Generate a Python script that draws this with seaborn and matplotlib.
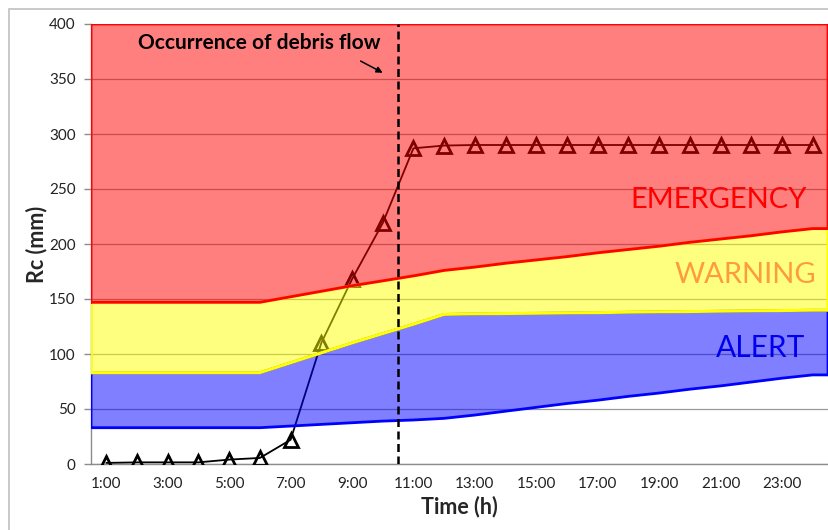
import numpy as np
import pandas as pd
import matplotlib
matplotlib.use("Agg")
import matplotlib.pyplot as plt
import matplotlib.patches as mpatches
import seaborn as sns

# ---------------- data ----------------
hours = ["1:00", "2:00", "3:00", "4:00", "5:00", "6:00", "7:00", "8:00",
         "9:00", "10:00", "11:00", "12:00", "13:00", "14:00", "15:00", "16:00",
         "17:00", "18:00", "19:00", "20:00", "21:00", "22:00", "23:00", "24:00"]
rc = [1, 1.5, 1.5, 1.5, 4, 5.5, 22, 110, 168, 219, 287, 289.5,
      290, 290, 290, 290, 290, 290, 290, 290, 290, 290, 290, 290]
alert_low = [33, 33, 33, 33, 33, 33, 34.5, 36, 37.5, 39, 40, 41.5,
             44.5, 48, 51.5, 55, 58, 61.5, 64.5, 68, 71, 74.5, 78, 81]
warning_low = [83, 83, 83, 83, 83, 83, 92, 101, 110, 118.5, 127, 136,
               136.5, 136.8, 137, 137.3, 137.6, 138, 138.3, 138.6, 138.9, 139.2, 139.5, 139.8]
emergency_low = [147, 147, 147, 147, 147, 147, 152, 157, 162, 166.5, 171, 176,
                 179, 182.5, 185.5, 188.5, 192, 195, 198, 201.5, 204.5, 207.5, 211, 214]
emergency_high = [400] * 24
y_ticks = [0, 50, 100, 150, 200, 250, 300, 350, 400]
x_label_hours = ["1:00", "3:00", "5:00", "7:00", "9:00", "11:00",
                 "13:00", "15:00", "17:00", "19:00", "21:00", "23:00"]

# ---------------- style ----------------
sns.set_style("white")
plt.rcParams['font.family'] = ['Lato', 'DejaVu Sans']

fig = plt.figure(figsize=(8.29, 5.30), dpi=100)
ax = fig.add_axes([91 / 829, 66 / 530, 737 / 829, 440 / 530])

idx = list(range(len(hours)))
df = pd.DataFrame({"t": idx, "rc": rc})

# gridlines below everything
ax.set_axisbelow(True)
ax.yaxis.grid(True, color="#9a9a9a", lw=0.9, zorder=0)

# Rc line (under the semi-transparent bands, as in the original)
sns.lineplot(data=df, x="t", y="rc", ax=ax, color="black", lw=1.3,
             marker="^", markersize=10.5, markerfacecolor="none",
             markeredgecolor="black", markeredgewidth=2.0, zorder=2)

# bands extended to plot edges
x_ext = [-0.5] + idx + [len(hours) - 0.5]


def ext(v):
    return [v[0]] + list(v) + [v[-1]]


def band(lo, hi, face, edge, lw, z):
    lo_e, hi_e = ext(lo), ext(hi)
    ax.fill_between(x_ext, lo_e, hi_e, color=face, alpha=0.5, lw=0, zorder=z)
    xs = x_ext + x_ext[::-1] + [x_ext[0]]
    ys = lo_e + hi_e[::-1] + [lo_e[0]]
    ax.plot(xs, ys, color=edge, lw=lw, zorder=z + 0.1, solid_joinstyle="miter")


band(alert_low, warning_low, "#0000FF", "#0000FF", 2.0, 3)
band(warning_low, emergency_low, "#FFFF00", "#FFFF00", 2.2, 4)
band(emergency_low, emergency_high, "#FF0000", "#FF0000", 2.0, 5)

# event line
ev_x = hours.index("10:00") + 0.5
ax.axvline(ev_x, color="black", lw=1.8, ls=(0, (3.2, 1.8)), zorder=8)
ax.text(4.97, 383, "Occurrence of debris flow", ha="center", va="center",
        fontsize=15, fontweight="bold", color="black", zorder=9)
ax.annotate("", xy=(9.08, 354.5), xytext=(8.2, 367.5),
            arrowprops=dict(arrowstyle="-|>", color="black", lw=1.1,
                            mutation_scale=9), zorder=9)

# band labels
ax.text(22.82, 240, "EMERGENCY", ha="right", va="center", fontsize=21,
        color="#FF0000", zorder=9)
ax.text(23.1, 172, "WARNING", ha="right", va="center", fontsize=21,
        color="#FF9B3F", zorder=9)
ax.text(22.76, 105.5, "ALERT", ha="right", va="center", fontsize=21.5,
        color="#0000EE", zorder=9)

# axes
ax.set_xlim(-0.5, len(hours) - 0.5)
ax.set_ylim(0, 400)
ax.set_yticks(y_ticks)
ax.set_yticklabels([str(v) for v in y_ticks], fontsize=11, color="#222222")
ax.set_xticks([hours.index(h) for h in x_label_hours])
ax.set_xticklabels(x_label_hours, fontsize=11, color="#222222")
ax.set_xticks([i - 0.5 for i in range(len(hours) + 1)], minor=True)
ax.tick_params(axis="x", which="major", length=0, pad=9)
ax.tick_params(axis="x", which="minor", length=5, color="#8c8c8c", width=1)
ax.tick_params(axis="y", which="major", length=5, color="#8c8c8c", width=1,
               left=True, pad=6)

for s in ["top", "right"]:
    ax.spines[s].set_visible(False)
for s in ["left", "bottom"]:
    ax.spines[s].set_color("#8c8c8c")
    ax.spines[s].set_linewidth(1)
    ax.spines[s].set_zorder(1)

ax.set_xlabel("Time (h)", fontsize=15.5, fontweight="bold", labelpad=4)
ax.set_ylabel("Rc (mm)", fontsize=15.5, fontweight="bold", labelpad=1.5)

# chart-area border
fig.patches.append(mpatches.Rectangle((9 / 829, -0.1), 1.2, 0.1 + 521 / 530,
                                      transform=fig.transFigure, fill=False,
                                      edgecolor="#c0c0c0", lw=1.2))

fig.savefig("out.png", dpi=100)
